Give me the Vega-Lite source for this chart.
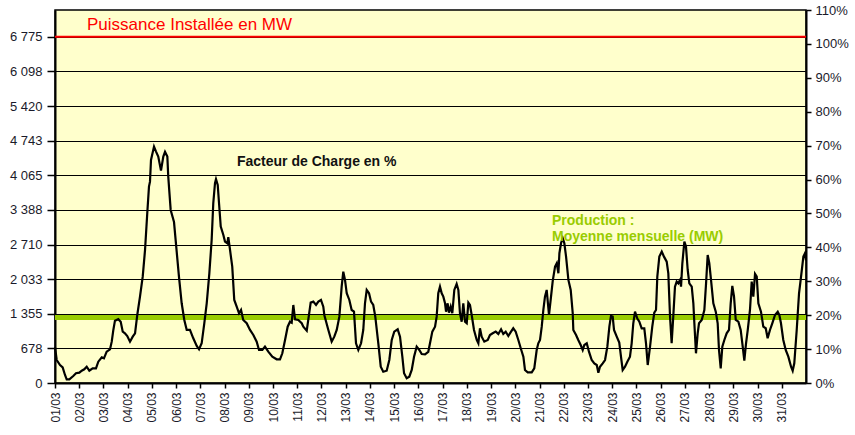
{
  "$schema": "https://vega.github.io/schema/vega-lite/v6.json",
  "width": 751,
  "height": 373,
  "autosize": {"type": "none"},
  "padding": {"left": 55, "top": 10, "right": 49, "bottom": 52},
  "background": "#FFFFFF",
  "config": {
    "view": {"fill": "#FFFFCC", "stroke": "#000000", "strokeWidth": 1.5},
    "axis": {
      "labelFont": "Liberation Sans",
      "labelFontSize": 13,
      "labelColor": "#1a1a2a",
      "domainColor": "#000000",
      "domainWidth": 2,
      "tickColor": "#000000",
      "tickWidth": 1.5,
      "title": null,
      "labelOverlap": false
    },
    "axisX": {"labelOverlap": false, "labelFontSize": 12},
    "text": {"font": "Liberation Sans"}
  },
  "datasets": {
    "prod": [
      {"h":0,"mw":700},{"h":1.7,"mw":450},{"h":5,"mw":352},{"h":7.6,"mw":307},{"h":9.9,"mw":157},{"h":11.6,"mw":72},{"h":14.2,"mw":72},{"h":18.1,"mw":137},{"h":20.8,"mw":190},{"h":24.1,"mw":202},{"h":26.5,"mw":241},{"h":29,"mw":268},{"h":31.4,"mw":319},{"h":34,"mw":241},{"h":37.3,"mw":288},{"h":40.6,"mw":288},{"h":42.9,"mw":417},{"h":46.3,"mw":503},{"h":48.5,"mw":483},{"h":51.2,"mw":613},{"h":54.5,"mw":660},{"h":56.2,"mw":809},{"h":57.8,"mw":1038},{"h":59.4,"mw":1220},{"h":62.7,"mw":1250},{"h":65.1,"mw":1200},{"h":67.1,"mw":1005},{"h":69.3,"mw":973},{"h":71.6,"mw":920},{"h":74.3,"mw":809},{"h":77,"mw":907},{"h":79.3,"mw":973},{"h":81.5,"mw":1331},{"h":84.2,"mw":1690},{"h":86.9,"mw":2081},{"h":89.2,"mw":2604},{"h":91.4,"mw":3322},{"h":93.1,"mw":3844},{"h":94.1,"mw":3941},{"h":95.1,"mw":4366},{"h":98.1,"mw":4627},{"h":100.1,"mw":4529},{"h":102.3,"mw":4431},{"h":105,"mw":4157},{"h":107.3,"mw":4431},{"h":109,"mw":4523},{"h":111.3,"mw":4431},{"h":112.2,"mw":4039},{"h":114.6,"mw":3387},{"h":117.9,"mw":3150},{"h":120.6,"mw":2560},{"h":122.8,"mw":2081},{"h":125.5,"mw":1560},{"h":128.1,"mw":1234},{"h":130.5,"mw":1038},{"h":133.7,"mw":1038},{"h":137,"mw":875},{"h":140.4,"mw":724},{"h":142.7,"mw":660},{"h":145.3,"mw":777},{"h":147.9,"mw":1169},{"h":150.3,"mw":1560},{"h":152.9,"mw":2147},{"h":155.2,"mw":2800},{"h":156.8,"mw":3518},{"h":158.5,"mw":3910},{"h":159.5,"mw":3988},{"h":161.2,"mw":3877},{"h":162.5,"mw":3518},{"h":164.2,"mw":3060},{"h":166.8,"mw":2898},{"h":168.4,"mw":2767},{"h":170.7,"mw":2735},{"h":171.7,"mw":2853},{"h":173.4,"mw":2604},{"h":175.6,"mw":2277},{"h":177.6,"mw":1625},{"h":180,"mw":1494},{"h":182.3,"mw":1365},{"h":184.3,"mw":1429},{"h":186.5,"mw":1234},{"h":189.9,"mw":1169},{"h":193.2,"mw":1038},{"h":196.5,"mw":940},{"h":199.8,"mw":809},{"h":202.1,"mw":646},{"h":205.4,"mw":646},{"h":208,"mw":711},{"h":211.3,"mw":613},{"h":215.3,"mw":515},{"h":219.6,"mw":464},{"h":222.9,"mw":464},{"h":225.2,"mw":581},{"h":227.9,"mw":842},{"h":230.5,"mw":1102},{"h":232.8,"mw":1200},{"h":234.5,"mw":1180},{"h":236.1,"mw":1527},{"h":237.8,"mw":1247},{"h":241,"mw":1234},{"h":244.4,"mw":1169},{"h":246,"mw":1102},{"h":249.4,"mw":1024},{"h":250.9,"mw":1234},{"h":253.3,"mw":1573},{"h":255.9,"mw":1592},{"h":258.6,"mw":1527},{"h":260.9,"mw":1592},{"h":263.5,"mw":1625},{"h":265.8,"mw":1494},{"h":266.8,"mw":1331},{"h":270.8,"mw":1038},{"h":274.1,"mw":809},{"h":276.7,"mw":907},{"h":279.1,"mw":1038},{"h":281.7,"mw":1298},{"h":284,"mw":1886},{"h":285.6,"mw":2179},{"h":287.3,"mw":2017},{"h":289,"mw":1756},{"h":291.6,"mw":1625},{"h":293.9,"mw":1429},{"h":296.2,"mw":1396},{"h":298.2,"mw":777},{"h":300.5,"mw":646},{"h":303.2,"mw":777},{"h":305.4,"mw":1038},{"h":307.1,"mw":1560},{"h":308.8,"mw":1821},{"h":311.1,"mw":1756},{"h":313.1,"mw":1592},{"h":315.3,"mw":1527},{"h":317.3,"mw":1298},{"h":320.3,"mw":777},{"h":322.7,"mw":319},{"h":325.2,"mw":221},{"h":328.6,"mw":241},{"h":331.2,"mw":450},{"h":333.6,"mw":842},{"h":336.1,"mw":1005},{"h":339.5,"mw":1051},{"h":341.8,"mw":907},{"h":344.1,"mw":515},{"h":345.8,"mw":190},{"h":348.4,"mw":92},{"h":351,"mw":124},{"h":353.4,"mw":255},{"h":355.7,"mw":515},{"h":358.3,"mw":711},{"h":360.9,"mw":646},{"h":363.3,"mw":568},{"h":366.6,"mw":560},{"h":369.8,"mw":610},{"h":371.5,"mw":777},{"h":373.8,"mw":1005},{"h":376.5,"mw":1102},{"h":378.1,"mw":1298},{"h":379.7,"mw":1756},{"h":381.4,"mw":1886},{"h":383.1,"mw":1756},{"h":384.7,"mw":1690},{"h":386.4,"mw":1560},{"h":387.4,"mw":1396},{"h":389,"mw":1560},{"h":390.3,"mw":1376},{"h":392,"mw":1494},{"h":393.6,"mw":1365},{"h":395.6,"mw":1821},{"h":397.9,"mw":1938},{"h":399.6,"mw":1821},{"h":401.2,"mw":1365},{"h":402.9,"mw":1200},{"h":404.5,"mw":1560},{"h":406.2,"mw":1200},{"h":407.9,"mw":1169},{"h":409.5,"mw":1573},{"h":411.1,"mw":1527},{"h":412.8,"mw":1331},{"h":415.1,"mw":1038},{"h":417.8,"mw":842},{"h":419.4,"mw":777},{"h":421,"mw":1070},{"h":422.7,"mw":907},{"h":425.3,"mw":809},{"h":428.7,"mw":842},{"h":430.9,"mw":940},{"h":433.6,"mw":973},{"h":436.6,"mw":1005},{"h":439.2,"mw":960},{"h":441.9,"mw":1051},{"h":444.1,"mw":960},{"h":446.5,"mw":1005},{"h":449.1,"mw":920},{"h":451.8,"mw":1005},{"h":454,"mw":1071},{"h":456.4,"mw":1005},{"h":459,"mw":842},{"h":461.7,"mw":660},{"h":464,"mw":515},{"h":465.6,"mw":255},{"h":468.3,"mw":209},{"h":472.3,"mw":209},{"h":474.8,"mw":287},{"h":477.2,"mw":646},{"h":478.8,"mw":777},{"h":480.5,"mw":842},{"h":482.2,"mw":1102},{"h":483.8,"mw":1429},{"h":485.4,"mw":1690},{"h":487.1,"mw":1821},{"h":489.4,"mw":1331},{"h":491.4,"mw":1690},{"h":493.1,"mw":2000},{"h":495.4,"mw":2277},{"h":497.1,"mw":2343},{"h":498.7,"mw":2147},{"h":499.7,"mw":2540},{"h":501.3,"mw":2735},{"h":503,"mw":2833},{"h":504.6,"mw":2735},{"h":506.3,"mw":2474},{"h":508.6,"mw":2017},{"h":510.9,"mw":1821},{"h":512.9,"mw":1365},{"h":513.5,"mw":1038},{"h":516.2,"mw":940},{"h":518.4,"mw":842},{"h":520.8,"mw":744},{"h":522.8,"mw":646},{"h":524.4,"mw":744},{"h":526.8,"mw":777},{"h":529,"mw":613},{"h":531.7,"mw":450},{"h":534.3,"mw":385},{"h":536.7,"mw":352},{"h":538.3,"mw":202},{"h":539.9,"mw":319},{"h":542.6,"mw":385},{"h":544.9,"mw":450},{"h":547.2,"mw":711},{"h":549.2,"mw":1102},{"h":550.8,"mw":1312},{"h":552.5,"mw":1300},{"h":553.8,"mw":1038},{"h":556.5,"mw":907},{"h":559,"mw":790},{"h":560.7,"mw":515},{"h":562.4,"mw":255},{"h":564.7,"mw":319},{"h":567,"mw":417},{"h":569.6,"mw":515},{"h":571.3,"mw":777},{"h":572.9,"mw":1169},{"h":574.6,"mw":1396},{"h":576.9,"mw":1260},{"h":578.9,"mw":1200},{"h":581.2,"mw":1071},{"h":583.8,"mw":1071},{"h":585.5,"mw":777},{"h":587.2,"mw":352},{"h":589.5,"mw":711},{"h":591.7,"mw":1102},{"h":593.7,"mw":1376},{"h":595.4,"mw":1429},{"h":596.7,"mw":2081},{"h":598.7,"mw":2473},{"h":601.1,"mw":2571},{"h":603.3,"mw":2473},{"h":606,"mw":2375},{"h":607.6,"mw":2147},{"h":609.3,"mw":1298},{"h":610.9,"mw":777},{"h":612.5,"mw":1298},{"h":614.2,"mw":1886},{"h":615.9,"mw":1984},{"h":617.5,"mw":1951},{"h":619.2,"mw":2017},{"h":620.2,"mw":1886},{"h":621.5,"mw":2343},{"h":623.5,"mw":2767},{"h":625.1,"mw":2670},{"h":626.8,"mw":2212},{"h":628.4,"mw":1951},{"h":630.8,"mw":1886},{"h":632.4,"mw":1560},{"h":633.4,"mw":1169},{"h":635,"mw":581},{"h":636.7,"mw":973},{"h":638,"mw":1169},{"h":640.7,"mw":1234},{"h":643.3,"mw":1429},{"h":645,"mw":1951},{"h":646.6,"mw":2506},{"h":648.2,"mw":2343},{"h":649.9,"mw":2017},{"h":652.2,"mw":1560},{"h":654.6,"mw":1396},{"h":656.5,"mw":1169},{"h":657.8,"mw":646},{"h":659.5,"mw":287},{"h":661.1,"mw":711},{"h":663.1,"mw":842},{"h":665.4,"mw":973},{"h":667.7,"mw":1038},{"h":669.4,"mw":1560},{"h":671,"mw":1899},{"h":672.7,"mw":1690},{"h":674.4,"mw":1234},{"h":677,"mw":1200},{"h":679.3,"mw":1038},{"h":681.3,"mw":711},{"h":682.9,"mw":437},{"h":684.6,"mw":777},{"h":686.3,"mw":1038},{"h":688.5,"mw":1429},{"h":690.2,"mw":1984},{"h":691.8,"mw":1690},{"h":693.5,"mw":2134},{"h":695.2,"mw":2081},{"h":696.8,"mw":1560},{"h":699.4,"mw":1396},{"h":701.7,"mw":1102},{"h":704.1,"mw":1071},{"h":706,"mw":875},{"h":708.3,"mw":1038},{"h":710.6,"mw":1169},{"h":713.3,"mw":1331},{"h":716,"mw":1396},{"h":717.6,"mw":1331},{"h":719.2,"mw":1169},{"h":721.5,"mw":842},{"h":723.9,"mw":646},{"h":726.5,"mw":515},{"h":729.2,"mw":319},{"h":730.8,"mw":241},{"h":732.4,"mw":385},{"h":734.8,"mw":1038},{"h":737.1,"mw":1756},{"h":739.1,"mw":2081},{"h":741.4,"mw":2473},{"h":743,"mw":2540},{"h":744,"mw":2400}
    ],
    "one": [{"k": 1}]
  },
  "layer": [
    {
      "data": {"name": "one"},
      "mark": {"type": "rule", "color": "#99CC00", "strokeWidth": 5},
      "encoding": {
        "y": {"datum": 1280, "type": "quantitative", "scale": {"domain": [0, 7300], "nice": false}, "axis": null}
      }
    },
    {
      "data": {"name": "one"},
      "mark": {"type": "rule", "color": "#FF0000", "strokeWidth": 2},
      "encoding": {
        "y": {"datum": 6775, "type": "quantitative", "scale": {"domain": [0, 7300], "nice": false}, "axis": null}
      }
    },
    {
      "data": {"name": "prod"},
      "mark": {"type": "line", "color": "#000000", "strokeWidth": 2.2, "interpolate": "linear"},
      "encoding": {
        "x": {
          "field": "h", "type": "quantitative",
          "scale": {"domain": [0, 744], "nice": false, "zero": false},
          "axis": {
            "values": [0,24,48,72,96,120,144,168,192,216,240,264,288,312,336,360,384,408,432,456,480,504,528,552,576,600,624,648,672,696,720],
            "labelExpr": "(datum.value/24+1 < 10 ? '0' : '') + (datum.value/24+1) + '/03'",
            "labelAngle": -90,
            "labelAlign": "right",
            "labelBaseline": "middle",
            "labelFontSize": 12,
            "tickSize": 5,
            "labelPadding": 4,
            "grid": false,
            "labelOverlap": false,
            "labelSeparation": 0
          }
        },
        "y": {
          "field": "mw", "type": "quantitative",
          "scale": {"domain": [0, 7300], "nice": false},
          "axis": {
            "values": [0,678,1355,2033,2710,3388,4065,4743,5420,6098,6775],
            "labelExpr": "replace(format(datum.value, ','), ',', ' ')",
            "grid": true,
            "gridColor": "#000000",
            "gridWidth": 1,
            "tickSize": 8,
            "labelPadding": 5,
            "labelOverlap": false
          }
        }
      }
    },
    {
      "data": {"name": "one"},
      "mark": {"type": "text", "text": "Puissance Installée en MW", "color": "#FF0000", "fontSize": 17, "align": "left", "baseline": "middle"},
      "encoding": {
        "x": {"datum": 31.7, "type": "quantitative", "scale": {"domain": [0, 744], "nice": false, "zero": false},
          "axis": {"values": [0,24,48,72,96,120,144,168,192,216,240,264,288,312,336,360,384,408,432,456,480,504,528,552,576,600,624,648,672,696,720], "labelExpr": "(datum.value/24+1 < 10 ? '0' : '') + (datum.value/24+1) + '/03'", "labelAngle": -90, "labelAlign": "right", "labelBaseline": "middle", "labelFontSize": 12, "tickSize": 5, "labelPadding": 4, "grid": false, "labelOverlap": false, "labelSeparation": 0}},
        "y": {"datum": 7000, "type": "quantitative", "scale": {"domain": [0, 7300], "nice": false}, "axis": null}
      }
    },
    {
      "data": {"name": "one"},
      "mark": {"type": "text", "text": "Facteur de Charge en %", "color": "#111111", "fontSize": 14, "fontWeight": "bold", "align": "left", "baseline": "middle"},
      "encoding": {
        "x": {"datum": 180.3, "type": "quantitative", "scale": {"domain": [0, 744], "nice": false, "zero": false},
          "axis": {"values": [0,24,48,72,96,120,144,168,192,216,240,264,288,312,336,360,384,408,432,456,480,504,528,552,576,600,624,648,672,696,720], "labelExpr": "(datum.value/24+1 < 10 ? '0' : '') + (datum.value/24+1) + '/03'", "labelAngle": -90, "labelAlign": "right", "labelBaseline": "middle", "labelFontSize": 12, "tickSize": 5, "labelPadding": 4, "grid": false, "labelOverlap": false, "labelSeparation": 0}},
        "y": {"datum": 4317, "type": "quantitative", "scale": {"domain": [0, 7300], "nice": false}, "axis": null}
      }
    },
    {
      "data": {"name": "one"},
      "mark": {"type": "text", "text": "Production :", "color": "#99CC00", "fontSize": 14, "fontWeight": "bold", "align": "left", "baseline": "middle"},
      "encoding": {
        "x": {"datum": 492.4, "type": "quantitative", "scale": {"domain": [0, 744], "nice": false, "zero": false},
          "axis": {"values": [0,24,48,72,96,120,144,168,192,216,240,264,288,312,336,360,384,408,432,456,480,504,528,552,576,600,624,648,672,696,720], "labelExpr": "(datum.value/24+1 < 10 ? '0' : '') + (datum.value/24+1) + '/03'", "labelAngle": -90, "labelAlign": "right", "labelBaseline": "middle", "labelFontSize": 12, "tickSize": 5, "labelPadding": 4, "grid": false, "labelOverlap": false, "labelSeparation": 0}},
        "y": {"datum": 3177, "type": "quantitative", "scale": {"domain": [0, 7300], "nice": false}, "axis": null}
      }
    },
    {
      "data": {"name": "one"},
      "mark": {"type": "text", "text": "Moyenne mensuelle (MW)", "color": "#99CC00", "fontSize": 14, "fontWeight": "bold", "align": "left", "baseline": "middle"},
      "encoding": {
        "x": {"datum": 492.4, "type": "quantitative", "scale": {"domain": [0, 744], "nice": false, "zero": false},
          "axis": {"values": [0,24,48,72,96,120,144,168,192,216,240,264,288,312,336,360,384,408,432,456,480,504,528,552,576,600,624,648,672,696,720], "labelExpr": "(datum.value/24+1 < 10 ? '0' : '') + (datum.value/24+1) + '/03'", "labelAngle": -90, "labelAlign": "right", "labelBaseline": "middle", "labelFontSize": 12, "tickSize": 5, "labelPadding": 4, "grid": false, "labelOverlap": false, "labelSeparation": 0}},
        "y": {"datum": 2863, "type": "quantitative", "scale": {"domain": [0, 7300], "nice": false}, "axis": null}
      }
    },
    {
      "data": {"name": "one"},
      "mark": {"type": "rule", "opacity": 0},
      "encoding": {
        "y": {
          "datum": 0, "type": "quantitative",
          "scale": {"domain": [0, 110], "nice": false},
          "axis": {
            "orient": "right",
            "values": [0,10,20,30,40,50,60,70,80,90,100,110],
            "labelExpr": "datum.value + '%'",
            "grid": false,
            "tickSize": 5,
            "labelPadding": 4,
            "labelOverlap": false
          }
        }
      }
    }
  ],
  "resolve": {"scale": {"y": "independent"}}
}
